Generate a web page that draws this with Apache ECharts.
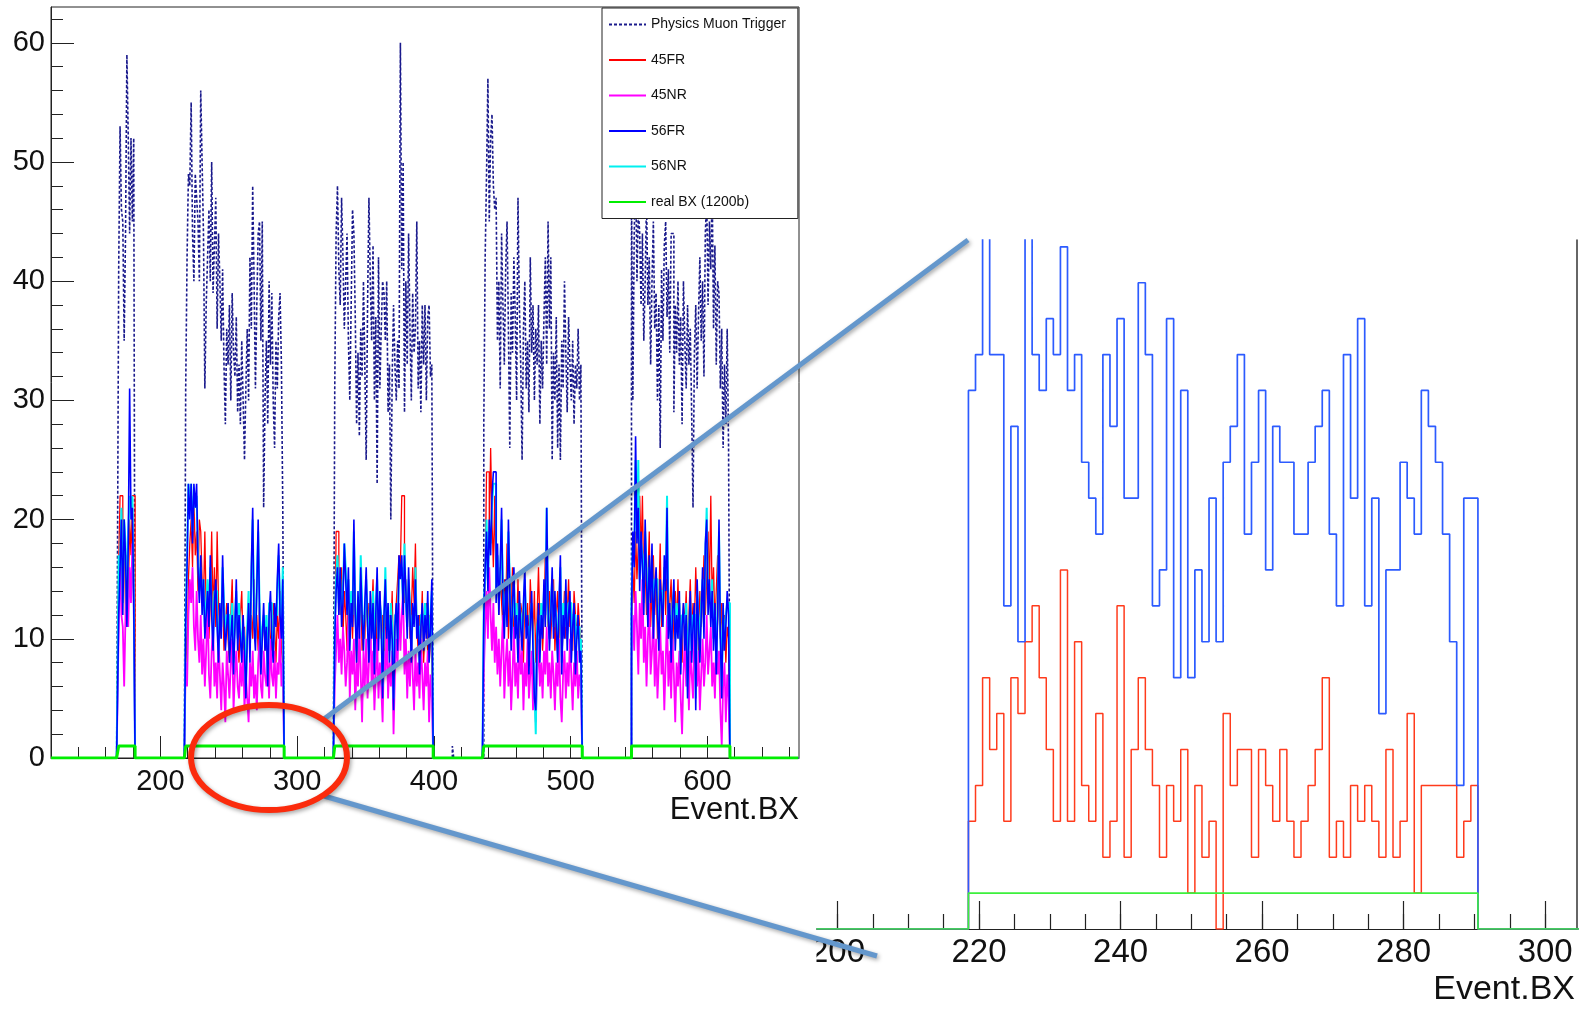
<!DOCTYPE html>
<html>
<head>
<meta charset="utf-8">
<script src="https://cdn.jsdelivr.net/npm/echarts@6/dist/echarts.min.js"></script>
<style>
html,body{margin:0;padding:0;background:#fff;}
#c{width:1585px;height:1009px;}
</style>
</head>
<body>
<div id="c"></div>
<script>
// ---------------- DATA ----------------
const trainStart = [170, 219, 328, 437, 545];

const pmt_t1 = [41,53,46,45,35,44,59,52,44,52,45,52];
const pmt_t2 = [31,42,49,48,55,44,40,49,47,45, 40,56,50,44,31,38,42,46,40,50, 39,43,47,36,44,40,35,41,33,28, 36,33,38,30,39,34,32,37,29,33, 28,35,30,25,31,36,30,42,36,48, 40,31,38,44,45,35,45,21,30,35, 28,40,33,39,30,26,35,31,37,39, 33,21];
const pmt_t3 = [31,44,48,41,38,47,42,36,40,44, 35,30,38,46,44,37,28,34,27,36, 32,40,33,25,38,47,40,35,43,30, 37,23,42,31,36,40,39,35,40,29, 33,20,32,38,33,30,35,31,60,41, 50,29,40,33,44,36,30,39,34,36, 45,31,35,29,38,33,38,30,37,38, 32,33];
const pmt_t4 = [28,42,49,57,45,52,54,48,46,47, 35,40,31,44,38,33,41,45,36,26, 39,34,42,37,30,47,38,33,25,36, 40,31,35,29,42,34,38,30,36,33, 38,28,35,31,37,42,33,45,36,42, 25,34,30,37,26,33,25,35,31,40, 34,29,37,33,30,35,28,33,31,36, 30,33];
const pmt_t5 = [48,30,44,50,40,46,44,38,44,35, 40,47,38,42,33,40,45,36,39,30, 38,26,41,35,43,45,37,41,34,44, 44,29,38,34,40,33,37,28,40,35, 31,38,33,36,29,21,34,38,31,37, 42,35,40,32,44,47,38,45,41,48, 36,43,33,40,39,31,36,26,33,28, 36,26];
const pmt_extra = [[414, 1]];

const fr45_t1 = [16,22,22,15,20,12,17,13,20,17,22,22];
const fr45_t2 = [11,8,15,18,20,16,22,17,19,14, 20,19,15,13,19,12,14,10,13,19, 12,16,11,19,13,10,12,14,9,11, 13,10,8,12,15,9,11,13,10,8, 12,14,9,11,7,10,13,9,12,10, 15,11,12,9,13,8,10,12,9,11, 8,12,10,9,13,11,8,12,10,14, 9,8];
const fr45_t3 = [8,19,19,15,12,16,10,14,12,9, 15,11,13,10,14,12,8,13,11,15, 9,12,10,14,11,13,9,12,15,10, 13,8,11,14,10,12,7,11,13,9, 12,10,14,7,11,13,15,17,16,22, 22,13,15,11,14,10,12,16,13,18, 11,9,12,10,14,8,11,13,9,12, 10,8];
const fr45_t4 = [9,15,24,24,18,26,20,16,22,14, 17,12,16,13,11,15,12,18,10,14, 12,16,9,13,11,15,10,13,12,8, 14,11,13,9,15,12,10,14,8,12, 16,11,13,9,12,17,13,11,14,10, 13,15,9,12,14,10,13,8,11,14, 10,12,15,11,13,9,14,12,10,13, 11,9];
const fr45_t5 = [10,16,13,19,15,18,22,17,22,14, 16,12,15,19,11,14,17,12,15,10, 13,18,11,14,16,12,17,10,13,15, 9,12,14,11,15,10,12,8,13,11, 14,9,12,15,10,13,11,16,12,9, 14,11,13,17,12,15,19,14,22,13, 16,11,14,17,12,10,13,9,12,8, 11,10];

const nr45_t1 = [11,17,12,11,6,12,15,11,16,13,18,13];
const nr45_t2 = [8,6,12,15,13,16,11,9,14,10, 8,12,7,10,6,9,13,7,5,9, 11,6,8,5,10,7,4,8,6,3, 9,7,5,8,10,4,7,9,6,5, 8,6,9,4,7,5,3,8,6,9, 5,7,4,8,10,6,5,9,7,6, 8,5,10,7,6,9,5,8,7,11, 6,8];
const nr45_t3 = [6,9,12,8,10,7,11,9,6,8, 12,5,9,7,10,4,8,6,11,7, 3,9,6,10,5,8,12,6,9,4, 7,10,5,8,6,3,9,7,11,5, 8,6,9,2,7,10,8,13,9,12, 14,7,10,5,9,6,11,7,4,9, 6,8,5,10,7,4,8,6,9,3, 7,5];
const nr45_t4 = [7,11,14,10,16,12,9,13,8,11, 7,10,6,9,12,5,8,10,6,9, 4,7,11,6,8,5,10,7,9,4, 8,6,10,5,7,9,4,8,3,7, 10,6,8,5,9,7,11,6,8,5, 9,7,4,8,6,10,5,3,7,9, 5,8,6,10,7,4,8,6,9,5, 7,6];
const nr45_t5 = [8,12,9,14,11,7,13,10,15,8, 11,6,10,13,7,9,12,6,10,5, 8,11,7,9,4,8,12,6,9,5, 10,7,3,8,6,9,5,2,7,10, 6,8,4,9,7,5,11,8,6,9, 4,7,10,6,8,12,7,9,11,6, 8,5,10,7,9,4,1,6,8,3, 7,5];

const fr56_t1 = [12,16,20,12,20,17,11,18,31,20,21,13];
const fr56_t2 = [11,16,23,20,23,18,23,21,23,16, 13,17,12,15,10,12,14,11,17,12, 9,13,15,11,8,13,10,17,12,9, 11,13,8,10,12,7,11,15,9,12, 10,8,12,9,5,10,13,8,16,21, 11,9,14,20,12,7,10,13,9,11, 6,12,14,10,8,13,11,15,18,12, 10,15];
const fr56_t3 = [10,14,16,12,16,11,13,18,15,12, 16,9,13,11,20,12,8,14,10,16, 12,9,13,16,11,8,14,10,13,7, 12,16,9,14,11,5,12,15,10,13, 8,12,10,4,11,13,9,17,15,17, 12,17,14,10,16,12,8,13,11,15, 10,12,7,11,13,9,12,10,14,8, 11,15];
const fr56_t4 = [12,16,19,14,20,17,22,24,24,13, 18,12,16,21,13,10,15,11,20,14, 9,13,16,10,12,8,14,11,9,13, 16,10,12,7,11,14,9,5,4,10, 13,8,12,10,15,11,21,13,9,12, 16,10,14,11,8,13,17,7,12,10, 15,9,12,14,8,11,13,7,10,12, 8,9];
const fr56_t5 = [12,19,16,27,18,21,14,19,16,12, 20,15,11,17,13,18,10,14,16,12, 9,15,13,11,17,14,21,10,13,8, 12,15,9,12,10,14,7,11,13,9, 12,5,10,14,8,11,13,4,15,11, 8,12,16,10,18,20,12,15,11,14, 9,13,7,12,20,10,5,13,9,11, 14,12];

const nr56_t1 = [17,16,21,13,20,18,12,19,22,21,22,14];
const nr56_t2 = [12,17,23,21,23,19,22,21,22,17, 14,16,13,15,11,13,15,12,16,13, 10,14,14,12,9,12,11,16,13,10, 12,12,9,11,13,8,12,14,10,13, 11,9,11,10,6,11,14,9,15,20, 12,10,15,19,13,8,11,12,10,12, 7,13,13,11,9,12,12,14,17,13, 11,16];
const nr56_t3 = [11,15,17,13,15,12,14,18,16,13, 15,10,14,12,19,13,9,13,11,17, 13,10,12,15,12,9,13,11,14,8, 13,15,10,13,12,6,11,16,11,12, 9,13,11,5,12,12,10,16,16,16, 13,18,13,11,15,13,9,12,12,16, 11,11,8,12,12,10,13,11,13,9, 12,14];
const nr56_t4 = [13,15,20,15,19,18,21,23,23,14, 17,13,15,20,14,11,14,12,19,15, 10,12,15,11,13,9,13,12,10,12, 15,11,11,8,12,13,10,6,2,11, 12,9,13,11,14,12,21,12,10,13, 15,11,13,12,9,12,16,8,13,11, 14,10,13,13,9,12,12,8,11,11, 9,10];
const nr56_t5 = [13,18,17,25,19,25,15,18,17,13, 19,16,12,16,14,17,11,15,15,13, 10,14,14,12,16,15,22,11,12,9, 13,14,10,13,11,13,8,12,12,10, 13,6,11,13,9,12,12,5,14,12, 9,13,15,11,17,21,13,14,12,15, 10,12,8,13,19,11,6,12,10,12, 13,13];

// real BX (1200b): filled bunches = 1
const realBX_t1 = [1,1,1,1,1,1,1,1,1,1,1,1];
const realBX_t = [1,1,1,1,1,1,1,1,1,1, 1,1,1,1,1,1,1,1,1,1, 1,1,1,1,1,1,1,1,1,1, 1,1,1,1,1,1,1,1,1,1, 1,1,1,1,1,1,1,1,1,1, 1,1,1,1,1,1,1,1,1,1, 1,1,1,1,1,1,1,1,1,1, 1,1];

// zoomed inset: bunches 219..290
const insetStart = 219;
const inset45FR = [3,4,7,5,6,3,7,6,8,9, 7,5,3,10,3,8,4,3,6,2, 3,9,2,5,7,5,4,2,4,3, 5,1,4,2,3,0,6,4,5,5, 2,5,4,3,5,3,2,3,4,5, 7,2,3,2,4,3,4,3,2,5, 2,3,6,1,4,4,4,4,4,2, 3,4];
const inset56FR = [15,16,24,16,16,9,14,8,22,16, 15,17,16,19,15,16,13,12,11,16, 14,17,12,12,18,16,9,10,17,7, 15,7,10,8,12,8,13,14,16,11, 13,15,10,14,13,13,11,11,13,14, 15,11,9,16,12,17,9,12,6,10, 10,13,12,11,15,14,13,11,8,4, 12,12];
const insetRealBX = realBX_t;

// tick values
const mainXMinorTicks = [140,160,180,200,220,240,260,280,300,320,340,360,380,400,420,440,460,480,500,520,540,560,580,600,620,640,660];
const mainXLabels = [200,300,400,500,600];
const mainYMinorTicks = [0,2,4,6,8,10,12,14,16,18,20,22,24,26,28,30,32,34,36,38,40,42,44,46,48,50,52,54,56,58,60,62];
const mainYLabels = [0,10,20,30,40,50,60];
const insetXMinorTicks = [200,205,210,215,220,225,230,235,240,245,250,255,260,265,270,275,280,285,290,295,300];
const insetXLabels = [200,220,240,260,280,300];

const seriesNames = ['Physics Muon Trigger','45FR','45NR','56FR','56NR','real BX (1200b)'];

// ---------------- BUILD ----------------
function build(trains, extras, from, to) {
  const m = new Map();
  trains.forEach(function (t) {
    t[1].forEach(function (y, i) { m.set(t[0] + i, y); });
  });
  (extras || []).forEach(function (e) { m.set(e[0], e[1]); });
  const out = [];
  for (let x = from; x <= to; x++) out.push([x, m.has(x) ? m.get(x) : 0]);
  return out;
}
function mainSeries(arrs, extras) {
  return build(arrs.map(function (a, i) { return [trainStart[i], a]; }), extras, 120, 667);
}
const dPMT = mainSeries([pmt_t1, pmt_t2, pmt_t3, pmt_t4, pmt_t5], pmt_extra);
const d45FR = mainSeries([fr45_t1, fr45_t2, fr45_t3, fr45_t4, fr45_t5]);
const d45NR = mainSeries([nr45_t1, nr45_t2, nr45_t3, nr45_t4, nr45_t5]);
const d56FR = mainSeries([fr56_t1, fr56_t2, fr56_t3, fr56_t4, fr56_t5]);
const d56NR = mainSeries([nr56_t1, nr56_t2, nr56_t3, nr56_t4, nr56_t5]);
const dBX = mainSeries([realBX_t1, realBX_t, realBX_t, realBX_t, realBX_t]);

const iRed = build([[insetStart, inset45FR]], null, 197, 305);
const iBlue = build([[insetStart, inset56FR]], null, 197, 305);
const iGreen = build([[insetStart, insetRealBX]], null, 197, 305);

const FONT = '"Liberation Sans", Arial, Helvetica, sans-serif';
const AX = '#222';

function stepLine(name, data, color, width, xi, yi, dash, z) {
  return {
    type: 'line', name: name, data: data, step: 'middle', symbol: 'none', showSymbol: false,
    xAxisIndex: xi, yAxisIndex: yi, clip: true, silent: true, z: z || 2,
    lineStyle: { color: color, width: width, type: dash || 'solid' },
    itemStyle: { color: color },
    emphasis: { disabled: true }
  };
}

const option = {
  animation: false,
  backgroundColor: '#fff',
  grid: [
    { left: 51, top: 7, width: 748, height: 751, show: true, borderColor: AX, borderWidth: 1, backgroundColor: 'transparent', containLabel: false, outerBoundsMode: 'none' },
    { left: 817, top: 240, width: 760, height: 689, show: false, containLabel: false, outerBoundsMode: 'none' }
  ],
  xAxis: [
    { type: 'value', gridIndex: 0, position: 'bottom', min: 120, max: 667,
      axisLine: { show: true, onZero: false, lineStyle: { color: AX, width: 1 } },
      axisTick: { show: true, inside: true, length: 11, customValues: mainXMinorTicks, lineStyle: { color: AX, width: 1 } },
      axisLabel: { show: true, customValues: mainXLabels, margin: 9, fontSize: 29, fontFamily: FONT, color: '#111' },
      splitLine: { show: false } },
    { type: 'value', gridIndex: 0, position: 'bottom', min: 120, max: 667,
      axisLine: { show: false, onZero: false },
      axisTick: { show: true, inside: true, length: 22, customValues: mainXLabels, lineStyle: { color: AX, width: 1 } },
      axisLabel: { show: false }, splitLine: { show: false } },
    { type: 'value', gridIndex: 1, position: 'bottom', min: 197.1, max: 304.5,
      axisLine: { show: true, onZero: false, lineStyle: { color: AX, width: 1.2 } },
      axisTick: { show: true, inside: true, length: 15, customValues: insetXMinorTicks, lineStyle: { color: AX, width: 1.2 } },
      axisLabel: { show: true, customValues: insetXLabels, margin: 7, fontSize: 33, fontFamily: FONT, color: '#111' },
      splitLine: { show: false } },
    { type: 'value', gridIndex: 1, position: 'bottom', min: 197.1, max: 304.5,
      axisLine: { show: false, onZero: false },
      axisTick: { show: true, inside: true, length: 28, customValues: insetXLabels, lineStyle: { color: AX, width: 1.2 } },
      axisLabel: { show: false }, splitLine: { show: false } }
  ],
  yAxis: [
    { type: 'value', gridIndex: 0, position: 'left', min: 0, max: 63,
      axisLine: { show: true, onZero: false, lineStyle: { color: AX, width: 1 } },
      axisTick: { show: true, inside: true, length: 12, customValues: mainYMinorTicks, lineStyle: { color: AX, width: 1 } },
      axisLabel: { show: true, customValues: mainYLabels, margin: 6, fontSize: 29, fontFamily: FONT, color: '#111' },
      splitLine: { show: false } },
    { type: 'value', gridIndex: 0, position: 'left', min: 0, max: 63,
      axisLine: { show: false, onZero: false },
      axisTick: { show: true, inside: true, length: 23, customValues: mainYLabels, lineStyle: { color: AX, width: 1 } },
      axisLabel: { show: false }, splitLine: { show: false } },
    { type: 'value', gridIndex: 1, position: 'right', min: 0, max: 19.19,
      axisLine: { show: true, onZero: false, lineStyle: { color: '#333', width: 1.5 } },
      axisTick: { show: false }, axisLabel: { show: false }, splitLine: { show: false } }
  ],
  legend: {
    show: true, orient: 'vertical', left: 602, top: 8,
    padding: [9.5, 12, 9.5, 6], itemGap: 21.5, itemWidth: 37, itemHeight: 14,
    backgroundColor: '#fff', borderColor: AX, borderWidth: 1, borderRadius: 0,
    selectedMode: false, z: 10,
    itemStyle: { color: 'rgba(0,0,0,0)', borderWidth: 0 },
    textStyle: { fontSize: 14, fontFamily: FONT, color: '#111' },
    data: seriesNames
  },
  series: [
    stepLine(seriesNames[0], dPMT, '#1a1a8c', 1.6, 0, 0, [3, 2]),
    stepLine(seriesNames[1], d45FR, '#ff0000', 1.3, 0, 0),
    stepLine(seriesNames[2], d45NR, '#ff00ff', 1.8, 0, 0),
    stepLine(seriesNames[4], d56NR, '#00f0f0', 2, 0, 0),
    stepLine(seriesNames[3], d56FR, '#0000ff', 1.6, 0, 0),
    stepLine(seriesNames[5], dBX, '#00ee00', 3, 0, 0),
    stepLine('inset45FR', iRed, '#ff3b1c', 1.5, 2, 2),
    stepLine('inset56FR', iBlue, '#2c5bff', 1.7, 2, 2),
    stepLine('insetBX', iGreen, '#3cf03c', 1.6, 2, 2)
  ],
  graphic: [
    { type: 'rect', z: 25, silent: true,
      shape: { x: 780, y: 933, width: 36.5, height: 40 },
      style: { fill: '#fff' } },
    { type: 'text', x: 799, y: 810, z: 20, silent: true,
      style: { text: 'Event.BX', font: '31px ' + FONT, fill: '#111', textAlign: 'right', textVerticalAlign: 'middle', align: 'right', verticalAlign: 'middle' } },
    { type: 'text', x: 1575, y: 990, z: 20, silent: true,
      style: { text: 'Event.BX', font: '34px ' + FONT, fill: '#111', textAlign: 'right', textVerticalAlign: 'middle', align: 'right', verticalAlign: 'middle' } },
    { type: 'line', z: 30, silent: true,
      shape: { x1: 324, y1: 719, x2: 968, y2: 240 },
      style: { stroke: '#6497cc', lineWidth: 5, shadowBlur: 4, shadowColor: 'rgba(0,0,0,0.35)', shadowOffsetX: 1.5, shadowOffsetY: 2 } },
    { type: 'line', z: 30, silent: true,
      shape: { x1: 324, y1: 796, x2: 877, y2: 956 },
      style: { stroke: '#6497cc', lineWidth: 5, shadowBlur: 4, shadowColor: 'rgba(0,0,0,0.35)', shadowOffsetX: 1.5, shadowOffsetY: 2 } },
    { type: 'ellipse', z: 31, silent: true,
      shape: { cx: 269, cy: 757.5, rx: 78, ry: 52.5 },
      style: { fill: 'none', stroke: '#fb2b0c', lineWidth: 6, shadowBlur: 4, shadowColor: 'rgba(0,0,0,0.35)', shadowOffsetX: 1.5, shadowOffsetY: 2 } }
  ]
};

const chart = echarts.init(document.getElementById('c'), null, { renderer: 'canvas', width: 1585, height: 1009 });
chart.setOption(option);
</script>
</body>
</html>
